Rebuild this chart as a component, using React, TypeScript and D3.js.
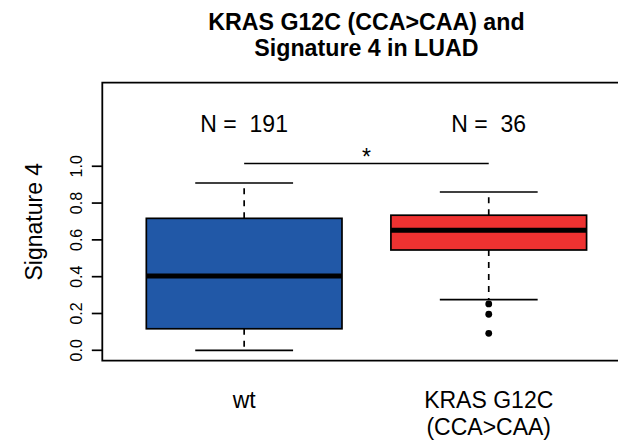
import * as d3 from "d3";
import { useEffect, useRef } from "react";

// groups and their summary stats
const groupPos = [1, 2];
const groupLabels = [["wt"], ["KRAS G12C", "(CCA>CAA)"]];
const counts = [191, 36];
const lowerWhisker = [0.0, 0.275];
const q1 = [0.117, 0.545];
const median = [0.404, 0.652];
const q3 = [0.717, 0.734];
const upperWhisker = [0.909, 0.86];
const outliers = [[], [0.252, 0.196, 0.092]];
const boxColors = ["#2158a7", "#ee3231"];
const yTicks = [0, 0.2, 0.4, 0.6, 0.8, 1.0];
const titleLines = ["KRAS G12C (CCA>CAA) and", "Signature 4 in LUAD"];
const yLabel = "Signature 4";
const sigY = 1.015;
const sigLabel = "*";
const nLabelY = 1.23;

const FONT = "'Liberation Sans', Arial, Helvetica, sans-serif";

export default function App() {
    const svgRef = useRef(null);

    useEffect(() => {
        document.body.style.margin = "0";
        const width = 618;
        const height = 446;
        const svg = d3.select(svgRef.current);
        svg.selectAll("*").remove();
        svg.attr("width", width).attr("height", height).style("font-family", FONT);

        // plot region like R's boxplot (xlim 0.5..2.5 + 4%)
        const left = 102.3, right = 630.6, top = 82.7, bottom = 360.7;
        const x = d3.scaleLinear().domain([0.42, 2.58]).range([left, right]);
        const y = d3.scaleLinear().domain([-0.0565, 1.454]).range([bottom, top]);

        const boxHalf = x(1.4) - x(1);
        const capHalf = x(1.2) - x(1);

        const g = svg.append("g");

        groupPos.forEach((p, i) => {
            const cx = x(p);
            // dashed whiskers
            g.append("line")
                .attr("x1", cx).attr("x2", cx)
                .attr("y1", y(q3[i])).attr("y2", y(upperWhisker[i]))
                .attr("stroke", "#000").attr("stroke-width", 1.7)
                .attr("stroke-dasharray", "6,6");
            g.append("line")
                .attr("x1", cx).attr("x2", cx)
                .attr("y1", y(q1[i])).attr("y2", y(lowerWhisker[i]))
                .attr("stroke", "#000").attr("stroke-width", 1.7)
                .attr("stroke-dasharray", "6,6");
            // staples
            [upperWhisker[i], lowerWhisker[i]].forEach((v) => {
                g.append("line")
                    .attr("x1", cx - capHalf).attr("x2", cx + capHalf)
                    .attr("y1", y(v)).attr("y2", y(v))
                    .attr("stroke", "#000").attr("stroke-width", 1.7);
            });
            // box
            g.append("rect")
                .attr("x", cx - boxHalf)
                .attr("y", y(q3[i]))
                .attr("width", boxHalf * 2)
                .attr("height", y(q1[i]) - y(q3[i]))
                .attr("fill", boxColors[i])
                .attr("stroke", "#000").attr("stroke-width", 1.7);
            // median
            g.append("line")
                .attr("x1", cx - boxHalf).attr("x2", cx + boxHalf)
                .attr("y1", y(median[i])).attr("y2", y(median[i]))
                .attr("stroke", "#000").attr("stroke-width", 5);
            // outliers
            g.selectAll(null)
                .data(outliers[i])
                .enter()
                .append("circle")
                .attr("cx", cx)
                .attr("cy", (d) => y(d))
                .attr("r", 3.4)
                .attr("fill", "#000");
            // N labels
            g.append("text")
                .attr("x", cx).attr("y", y(nLabelY) + 8.5)
                .attr("text-anchor", "middle")
                .attr("font-size", 23)
                .attr("xml:space", "preserve")
                .text(`N =  ${counts[i]}`);
            // x labels
            groupLabels[i].forEach((t, j) => {
                g.append("text")
                    .attr("x", cx).attr("y", 408 + j * 27)
                    .attr("text-anchor", "middle")
                    .attr("font-size", 23)
                    .text(t);
            });
        });

        // significance bar
        g.append("line")
            .attr("x1", x(1)).attr("x2", x(2))
            .attr("y1", y(sigY)).attr("y2", y(sigY))
            .attr("stroke", "#000").attr("stroke-width", 1.7);
        g.append("text")
            .attr("x", x(1.5)).attr("y", y(sigY) + 2)
            .attr("text-anchor", "middle")
            .attr("font-size", 23)
            .text(sigLabel);

        // frame
        g.append("path")
            .attr("d", `M${right},${top}H${left}V${bottom}H${right}`)
            .attr("fill", "none")
            .attr("stroke", "#000").attr("stroke-width", 1.8);

        // y axis ticks
        yTicks.forEach((t) => {
            g.append("line")
                .attr("x1", left - 10.5).attr("x2", left)
                .attr("y1", y(t)).attr("y2", y(t))
                .attr("stroke", "#000").attr("stroke-width", 1.7);
            g.append("text")
                .attr("transform", `translate(81.5,${y(t)}) rotate(-90)`)
                .attr("text-anchor", "middle")
                .attr("font-size", 16)
                .text(d3.format(".1f")(t));
        });

        // y label
        g.append("text")
            .attr("transform", `translate(42,${(top + bottom) / 2}) rotate(-90)`)
            .attr("text-anchor", "middle")
            .attr("font-size", 23)
            .text(yLabel);

        // title
        titleLines.forEach((t, j) => {
            g.append("text")
                .attr("x", (left + right) / 2)
                .attr("y", 29.5 + j * 26)
                .attr("text-anchor", "middle")
                .attr("font-size", 23.2)
                .attr("font-weight", "bold")
                .text(t);
        });
    }, []);

    return <svg ref={svgRef}></svg>;
}
